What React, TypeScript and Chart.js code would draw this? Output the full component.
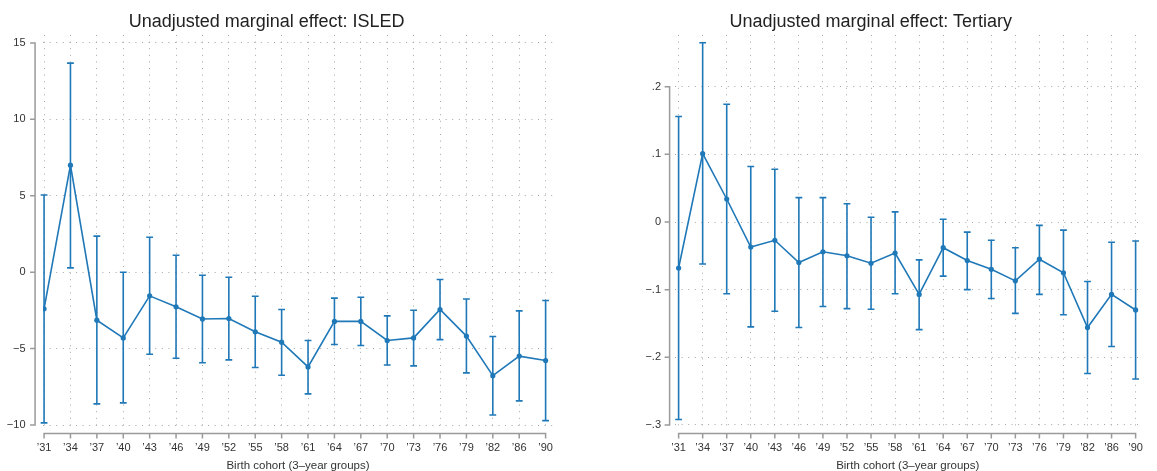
import React, { useEffect, useRef } from "react";
import { Chart, registerables } from "chart.js";
Chart.register(...registerables);

// ---- data ----
const cohorts = ["’31", "’34", "’37", "’40", "’43", "’46", "’49", "’52", "’55", "’58", "’61", "’64", "’67", "’70", "’73", "’76", "’79", "’82", "’86", "’90"];

const isledEst = [-2.4, 7.0, -3.14, -4.3, -1.55, -2.26, -3.06, -3.03, -3.9, -4.58, -6.2, -3.22, -3.22, -4.47, -4.3, -2.44, -4.18, -6.77, -5.49, -5.78];
const isledHi = [5.05, 13.68, 2.36, 0.0, 2.29, 1.11, -0.2, -0.33, -1.57, -2.44, -4.47, -1.7, -1.64, -2.86, -2.49, -0.48, -1.75, -4.21, -2.53, -1.85];
const isledLo = [-9.86, 0.28, -8.62, -8.55, -5.37, -5.63, -5.93, -5.74, -6.24, -6.74, -7.96, -4.73, -4.8, -6.07, -6.13, -4.41, -6.59, -9.34, -8.42, -9.71];

const tertEst = [-0.068, 0.101, 0.034, -0.037, -0.027, -0.06, -0.044, -0.05, -0.061, -0.046, -0.107, -0.038, -0.057, -0.07, -0.087, -0.055, -0.075, -0.156, -0.107, -0.13];
const tertHi = [0.156, 0.265, 0.174, 0.082, 0.078, 0.036, 0.036, 0.027, 0.007, 0.015, -0.056, 0.004, -0.015, -0.027, -0.038, -0.005, -0.012, -0.088, -0.03, -0.028];
const tertLo = [-0.292, -0.062, -0.106, -0.155, -0.132, -0.156, -0.125, -0.128, -0.129, -0.106, -0.159, -0.08, -0.1, -0.113, -0.135, -0.107, -0.137, -0.224, -0.184, -0.232];

const isledTicks = [-10, -5, 0, 5, 10, 15];
const isledTickLabels = ["−10", "−5", "0", "5", "10", "15"];
const tertTicks = [-0.3, -0.2, -0.1, 0, 0.1, 0.2];
const tertTickLabels = ["−.3", "−.2", "−.1", "0", ".1", ".2"];

const isledTitle = "Unadjusted marginal effect: ISLED";
const tertTitle = "Unadjusted marginal effect: Tertiary";
const xAxisTitle = "Birth cohort (3–year groups)";

// ---- styles ----
const BLUE = "#1f78b8";
const GRID = "#a6a6a6";
const AXIS = "#9a9a9a";
const TEXT = "#333333";
const FONT = "'Liberation Sans', Arial, Helvetica, sans-serif";

function makeErrorBars(lo: number[], hi: number[]) {
  return {
    id: "errorBars",
    beforeDatasetsDraw(chart: any) {
      const { ctx, scales } = chart;
      const x = scales.x;
      const y = scales.y;
      ctx.save();
      ctx.strokeStyle = BLUE;
      ctx.lineWidth = 1.6;
      ctx.beginPath();
      const cap = 3.4;
      lo.forEach((l, i) => {
        const px = x.getPixelForValue(i);
        const yl = y.getPixelForValue(l);
        const yh = y.getPixelForValue(hi[i]);
        ctx.moveTo(px, yl);
        ctx.lineTo(px, yh);
        ctx.moveTo(px - cap, yl);
        ctx.lineTo(px + cap, yl);
        ctx.moveTo(px - cap, yh);
        ctx.lineTo(px + cap, yh);
      });
      ctx.stroke();
      ctx.restore();
    },
  };
}

function makeAxes(yTicks: number[], n: number) {
  return {
    id: "stataAxes",
    afterDraw(chart: any) {
      const { ctx, scales, chartArea } = chart;
      const x = scales.x;
      const y = scales.y;
      const x0 = x.getPixelForValue(0);
      const x1 = x.getPixelForValue(n - 1);
      const ax = x0 - 9;
      const yTop = y.getPixelForValue(Math.max(...yTicks));
      const yBot = y.getPixelForValue(Math.min(...yTicks));
      const ay = chartArea.bottom + 6.5;
      const tl = 5;
      ctx.save();
      ctx.strokeStyle = AXIS;
      ctx.lineWidth = 1.5;
      ctx.beginPath();
      ctx.moveTo(ax, yTop);
      ctx.lineTo(ax, yBot);
      yTicks.forEach((v) => {
        const py = y.getPixelForValue(v);
        ctx.moveTo(ax + 0.75, py);
        ctx.lineTo(ax - tl, py);
      });
      ctx.moveTo(x0, ay);
      ctx.lineTo(x1, ay);
      for (let i = 0; i < n; i++) {
        const px = x.getPixelForValue(i);
        ctx.moveTo(px, ay - 0.75);
        ctx.lineTo(px, ay + tl);
      }
      ctx.stroke();
      ctx.restore();
    },
  };
}

type PanelProps = {
  left: number;
  width: number;
  title: string;
  titleCenter: number;
  est: number[];
  lo: number[];
  hi: number[];
  yMin: number;
  yMax: number;
  yTicks: number[];
  yLabels: string[];
  xMin: number;
  xMax: number;
  yAxisWidth: number;
  padRight: number;
  yPad: number;
};

function Panel(p: PanelProps) {
  const ref = useRef<HTMLCanvasElement | null>(null);
  useEffect(() => {
    if (!ref.current) return;
    const chart = new Chart(ref.current, {
      type: "line",
      data: {
        datasets: [
          {
            data: p.est.map((v, i) => ({ x: i, y: v })),
            borderColor: BLUE,
            backgroundColor: BLUE,
            pointBackgroundColor: BLUE,
            pointBorderColor: BLUE,
            borderWidth: 1.6,
            pointRadius: 2.6,
            pointBorderWidth: 0,
            tension: 0,
          },
        ],
      },
      options: {
        responsive: false,
        animation: false,
        events: [],
        layout: { padding: { left: 0, right: p.padRight, top: 35, bottom: 0 } },
        plugins: {
          legend: { display: false },
          title: { display: false },
          tooltip: { enabled: false },
        },
        scales: {
          x: {
            type: "linear",
            min: p.xMin,
            max: p.xMax,
            bounds: "data",
            afterBuildTicks: (s: any) => {
              s.ticks = cohorts.map((_, i) => ({ value: i }));
            },
            afterFit: (s: any) => {
              s.height = 44;
            },
            ticks: {
              autoSkip: false,
              maxRotation: 0,
              minRotation: 0,
              padding: 14,
              color: TEXT,
              font: { family: FONT, size: 11 },
              callback: (v: any) => cohorts[Math.round(Number(v))],
            },
            grid: { color: GRID, lineWidth: 1, drawTicks: false },
            border: { display: false, dash: [1, 5.6] },
            title: {
              display: true,
              text: xAxisTitle,
              color: TEXT,
              font: { family: FONT, size: 11.5 },
              padding: { top: 0, bottom: -1.5 },
            },
          },
          y: {
            type: "linear",
            min: p.yMin,
            max: p.yMax,
            bounds: "data",
            afterBuildTicks: (s: any) => {
              s.ticks = p.yTicks.map((v) => ({ value: v }));
            },
            afterFit: (s: any) => {
              s.width = p.yAxisWidth;
            },
            ticks: {
              padding: p.yPad,
              color: TEXT,
              font: { family: FONT, size: 11 },
              callback: (_v: any, i: number) => p.yLabels[i],
            },
            grid: { color: GRID, lineWidth: 1, drawTicks: false },
            border: { display: false, dash: [1, 5.6] },
          },
        },
      },
      plugins: [makeErrorBars(p.lo, p.hi), makeAxes(p.yTicks, cohorts.length)],
    } as any);
    return () => chart.destroy();
  }, []);
  return (
    <div style={{ position: "absolute", left: p.left, top: 0, width: p.width, height: 471 }}>
      <canvas ref={ref} width={p.width} height={471} style={{ position: "absolute", left: 0, top: 0 }} />
      <div
        style={{
          position: "absolute",
          left: p.titleCenter - p.left - 250,
          width: 500,
          top: 11.5,
          textAlign: "center",
          fontFamily: FONT,
          fontSize: 18,
          lineHeight: "18px",
          color: "#222",
          whiteSpace: "nowrap",
        }}
      >
        {p.title}
      </div>
    </div>
  );
}

export default function App() {
  return (
    <div style={{ position: "absolute", left: 0, top: 0, width: 1157, height: 471, background: "#fff", overflow: "hidden" }}>
      <Panel
        left={0}
        width={578}
        title={isledTitle}
        titleCenter={266.7}
        est={isledEst}
        lo={isledLo}
        hi={isledHi}
        yMin={-10.13}
        yMax={15.52}
        yTicks={isledTicks}
        yLabels={isledTickLabels}
        xMin={-0.04}
        xMax={19.28}
        yAxisWidth={43}
        padRight={25}
        yPad={17.5}
      />
      <Panel
        left={578}
        width={579}
        title={tertTitle}
        titleCenter={870.8}
        est={tertEst}
        lo={tertLo}
        hi={tertHi}
        yMin={-0.303}
        yMax={0.2764}
        yTicks={tertTicks}
        yLabels={tertTickLabels}
        xMin={-0.15}
        xMax={19.2}
        yAxisWidth={97}
        padRight={2}
        yPad={14}
      />
    </div>
  );
}
